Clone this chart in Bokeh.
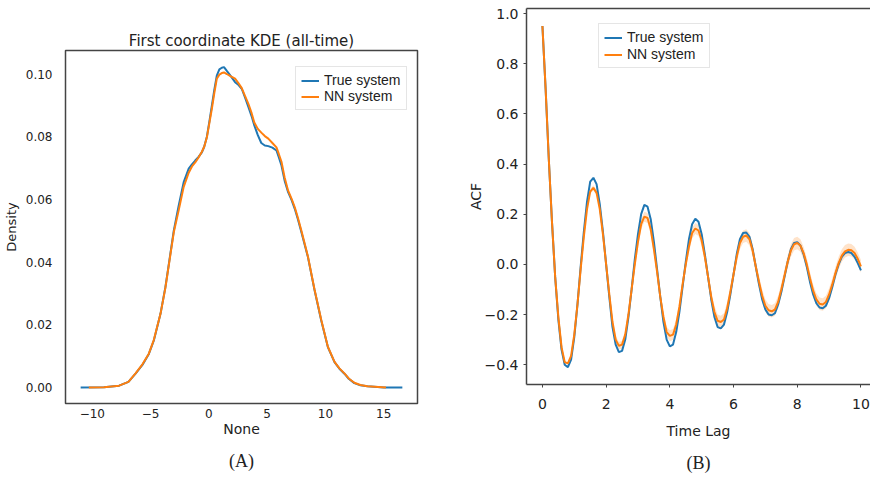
import numpy as np
from bokeh.plotting import figure
from bokeh.layouts import row, column
from bokeh.models import Range1d, FixedTicker, Legend, LegendItem, LinearAxis, Title
from bokeh.embed import file_html
from bokeh.resources import INLINE

BLUE = "#1f77b4"
ORANGE = "#ff7f0e"
SPINE = "#444444"
TICKFONT = "DejaVu Sans"

# ---------------- Panel A: KDE of first coordinate ----------------
kde_true_x = [-11.0, -9.0, -7.7, -6.9, -6.29, -5.7, -5.15, -4.72, -4.15, -3.73, -3.39, -3.01,
              -2.59, -2.16, -1.73, -1.45, -1.17, -0.9, -0.6, -0.4, -0.17, 0.05, 0.26, 0.47,
              0.68, 0.9, 1.11, 1.3, 1.54, 1.85, 2.25, 2.55, 2.82, 3.1, 3.39, 3.67, 3.9, 4.2,
              4.5, 4.8, 5.1, 5.45, 5.8, 6.0, 6.23, 6.5, 6.8, 7.1, 7.37, 7.65, 7.94, 8.5, 9.07,
              9.64, 10.21, 10.78, 11.2, 11.63, 12.0, 12.48, 13.0, 13.6, 15.0, 16.6]
kde_true_y = [0.0, 0.0001, 0.0006, 0.0018, 0.0044, 0.0072, 0.0107, 0.015, 0.0235, 0.032,
              0.0405, 0.050, 0.058, 0.0655, 0.0698, 0.0712, 0.0724, 0.0735, 0.075, 0.0768,
              0.080, 0.085, 0.090, 0.095, 0.0995, 0.1015, 0.102, 0.1022, 0.101, 0.0995,
              0.0974, 0.0965, 0.0953, 0.0925, 0.0895, 0.0865, 0.0836, 0.0805, 0.078, 0.0772,
              0.077, 0.0765, 0.0756, 0.0735, 0.0708, 0.066, 0.0623, 0.0598, 0.057, 0.0535,
              0.0495, 0.0416, 0.031, 0.0214, 0.0129, 0.0081, 0.006, 0.0044, 0.0028, 0.0014,
              0.0007, 0.0004, 0.00003, 0.0]
kde_nn_x = [-10.3, -9.0, -7.7, -6.9, -6.29, -5.7, -5.15, -4.72, -4.15, -3.73, -3.39, -3.01,
            -2.59, -2.16, -1.73, -1.45, -1.17, -0.9, -0.6, -0.4, -0.17, 0.05, 0.26, 0.47,
            0.68, 0.9, 1.11, 1.3, 1.54, 1.85, 2.25, 2.55, 2.82, 3.1, 3.39, 3.67, 3.9, 4.2,
            4.5, 4.8, 5.1, 5.45, 5.8, 6.0, 6.23, 6.5, 6.8, 7.1, 7.37, 7.65, 7.94, 8.5, 9.07,
            9.64, 10.21, 10.78, 11.2, 11.63, 12.0, 12.48, 13.0, 13.6, 15.2]
kde_nn_y = [0.0, 0.0001, 0.0006, 0.0018, 0.0045, 0.0074, 0.0108, 0.0152, 0.0235, 0.0318,
            0.0402, 0.0495, 0.0565, 0.064, 0.0685, 0.0705, 0.0718, 0.0733, 0.0752, 0.0768,
            0.0798, 0.0845, 0.089, 0.094, 0.0985, 0.0998, 0.1003, 0.1005, 0.1, 0.0993,
            0.0985, 0.097, 0.0955, 0.093, 0.0905, 0.0875, 0.0845, 0.0825, 0.0813, 0.0802,
            0.0794, 0.078, 0.0766, 0.0745, 0.072, 0.067, 0.0628, 0.0602, 0.0575, 0.054,
            0.050, 0.0418, 0.0312, 0.0216, 0.013, 0.0082, 0.0061, 0.0045, 0.0029, 0.0015,
            0.0008, 0.0004, 0.0]
kde_xticks = [-10, -5, 0, 5, 10, 15]
kde_yticks = [0.0, 0.02, 0.04, 0.06, 0.08, 0.10]
kde_ylabels = ["0.00", "0.02", "0.04", "0.06", "0.08", "0.10"]

# ---------------- Panel B: ACF ----------------
acf_lag = [round(0.1 * i, 1) for i in range(101)]
acf_true = [0.95, 0.70, 0.42, 0.17, -0.05, -0.22, -0.34, -0.40, -0.41, -0.38,
            -0.29, -0.16, -0.01, 0.13, 0.25, 0.33, 0.345, 0.32, 0.24, 0.13,
            0.00, -0.13, -0.25, -0.32, -0.35, -0.345, -0.30, -0.21, -0.10, 0.02,
            0.12, 0.20, 0.237, 0.23, 0.18, 0.09, -0.02, -0.13, -0.23, -0.30,
            -0.327, -0.32, -0.27, -0.19, -0.09, 0.01, 0.10, 0.16, 0.182, 0.17,
            0.12, 0.04, -0.05, -0.14, -0.21, -0.25, -0.255, -0.24, -0.19, -0.12,
            -0.04, 0.04, 0.10, 0.125, 0.127, 0.11, 0.06, -0.01, -0.08, -0.14,
            -0.18, -0.20, -0.203, -0.195, -0.16, -0.11, -0.05, 0.01, 0.06, 0.085,
            0.088, 0.075, 0.04, -0.01, -0.07, -0.12, -0.155, -0.172, -0.175, -0.165,
            -0.135, -0.09, -0.04, 0.00, 0.03, 0.045, 0.049, 0.045, 0.03, 0.005,
            -0.024]
acf_nn = [0.95, 0.70, 0.42, 0.17, -0.05, -0.21, -0.33, -0.39, -0.395, -0.365,
          -0.28, -0.16, -0.02, 0.11, 0.22, 0.29, 0.305, 0.285, 0.22, 0.12,
          0.00, -0.12, -0.23, -0.30, -0.325, -0.32, -0.28, -0.20, -0.10, 0.00,
          0.09, 0.16, 0.19, 0.185, 0.14, 0.06, -0.03, -0.13, -0.21, -0.27,
          -0.285, -0.28, -0.24, -0.17, -0.08, 0.00, 0.07, 0.125, 0.143, 0.135,
          0.095, 0.03, -0.05, -0.13, -0.19, -0.225, -0.23, -0.22, -0.175, -0.11,
          -0.04, 0.03, 0.085, 0.11, 0.115, 0.10, 0.055, -0.01, -0.07, -0.125,
          -0.165, -0.183, -0.187, -0.18, -0.15, -0.10, -0.045, 0.01, 0.055, 0.08,
          0.085, 0.075, 0.045, 0.00, -0.055, -0.105, -0.14, -0.157, -0.16, -0.15,
          -0.12, -0.08, -0.035, 0.005, 0.035, 0.052, 0.058, 0.056, 0.045, 0.022,
          -0.008]
acf_nn_spread_per_unit = [0.004, 0.01, 0.015, 0.02, 0.022, 0.025, 0.025, 0.025, 0.025, 0.025, 0.025]
acf_xticks = [0, 2, 4, 6, 8, 10]
acf_yticks = [-0.4, -0.2, 0.0, 0.2, 0.4, 0.6, 0.8, 1.0]
acf_ylabels = ["\u22120.4", "\u22120.2", "0.0", "0.2", "0.4", "0.6", "0.8", "1.0"]


def style_axis(ax, size):
    ax.major_label_text_font = TICKFONT
    ax.major_label_text_font_size = size
    ax.major_label_text_color = "#222222"
    ax.axis_label_text_font = TICKFONT
    ax.axis_label_text_font_style = "normal"
    ax.axis_label_text_color = "#222222"
    ax.minor_tick_line_color = None


def caption(text):
    return Title(text=text, align="center", text_font="Liberation Serif",
                 text_font_size="18px", text_font_style="normal", text_color="#222222",
                 standoff=18)


# ---------- figure A ----------
p1 = figure(width=435, height=481, output_backend="svg", toolbar_location=None,
            x_range=Range1d(-12.3, 17.9), y_range=Range1d(-0.0051, 0.1075),
            min_border_left=63, min_border_right=18, min_border_top=50, min_border_bottom=78)
p1.grid.grid_line_color = None
p1.outline_line_color = SPINE
p1.outline_line_width = 1.5
p1.title.text = "First coordinate KDE (all-time)"
p1.title.align = "center"
p1.title.text_font = TICKFONT
p1.title.text_font_style = "normal"
p1.title.text_font_size = "15px"
p1.title.text_color = "#222222"
p1.title.standoff = 2

for ax in p1.xaxis + p1.yaxis:
    style_axis(ax, "12px")
    ax.axis_line_color = None
    ax.major_tick_out = 0
    ax.major_tick_in = 0
p1.xaxis.ticker = FixedTicker(ticks=kde_xticks)
p1.xaxis.major_label_standoff = 5
p1.xaxis.axis_label = "None"
p1.xaxis.axis_label_text_font_size = "14px"
p1.xaxis.axis_label_standoff = 0
p1.yaxis.ticker = FixedTicker(ticks=kde_yticks)
p1.yaxis.major_label_overrides = {v: s for v, s in zip(kde_yticks, kde_ylabels)}
p1.yaxis.major_label_standoff = 13
p1.yaxis.axis_label = "Density"
p1.yaxis.axis_label_text_font_size = "13px"
p1.yaxis.axis_label_standoff = 4

r_true = p1.line(kde_true_x, kde_true_y, line_color=BLUE, line_width=2)
r_nn = p1.line(kde_nn_x, kde_nn_y, line_color=ORANGE, line_width=2)

leg1 = Legend(items=[LegendItem(label="True system", renderers=[r_true]),
                     LegendItem(label="NN system", renderers=[r_nn])],
              location=(230, 293), padding=5, spacing=0, margin=0,
              label_height=15, glyph_height=15, glyph_width=18, label_standoff=5,
              label_text_font="Liberation Sans", label_text_font_size="14px",
              label_text_color="#222222",
              border_line_color="#cccccc", border_line_width=1,
              background_fill_alpha=0.9)
p1.add_layout(leg1)
p1.add_layout(caption("(A)"), "below")

# ---------- figure B ----------
p2 = figure(width=435, height=481, output_backend="svg", toolbar_location=None,
            x_range=Range1d(-0.5, 10.3), y_range=Range1d(-0.479, 1.02),
            min_border_left=91, min_border_right=0, min_border_top=8, min_border_bottom=95)
p2.grid.grid_line_color = None
p2.outline_line_color = None

for ax in p2.xaxis + p2.yaxis:
    style_axis(ax, "14px")
    ax.axis_line_color = SPINE
    ax.axis_line_width = 1.5
    ax.major_tick_line_color = SPINE
    ax.major_tick_in = 0
    ax.major_tick_out = 3
p2.xaxis.ticker = FixedTicker(ticks=acf_xticks)
p2.xaxis.major_label_standoff = 11
p2.xaxis.axis_label = "Time Lag"
p2.xaxis.axis_label_text_font_size = "14px"
p2.xaxis.axis_label_standoff = 11
p2.yaxis.ticker = FixedTicker(ticks=acf_yticks)
p2.yaxis.major_label_overrides = {v: s for v, s in zip(acf_yticks, acf_ylabels)}
p2.yaxis.major_label_standoff = 5
p2.yaxis.axis_label = "ACF"
p2.yaxis.axis_label_text_font_size = "14px"
p2.yaxis.axis_label_standoff = -2

top_spine = LinearAxis(ticker=FixedTicker(ticks=[]), axis_line_color=SPINE, axis_line_width=1.5,
                       major_tick_in=0, major_tick_out=0, minor_tick_line_color=None,
                       major_label_standoff=0, axis_label_standoff=0)
p2.add_layout(top_spine, "above")

spread = np.repeat(acf_nn_spread_per_unit, 10)[:len(acf_lag)]
nn_arr = np.array(acf_nn)
p2.varea(x=acf_lag, y1=nn_arr - spread, y2=nn_arr + spread, fill_color=ORANGE, fill_alpha=0.22)
a_true = p2.line(acf_lag, acf_true, line_color=BLUE, line_width=2)
a_nn = p2.line(acf_lag, acf_nn, line_color=ORANGE, line_width=2)

leg2 = Legend(items=[LegendItem(label="True system", renderers=[a_true]),
                     LegendItem(label="NN system", renderers=[a_nn])],
              location=(72, 316), padding=5, spacing=1, margin=0,
              label_height=15, glyph_height=15, glyph_width=18, label_standoff=5,
              label_text_font="Liberation Sans", label_text_font_size="14px",
              label_text_color="#222222",
              border_line_color="#cccccc", border_line_width=1,
              background_fill_alpha=0.9)
p2.add_layout(leg2)
p2.add_layout(caption("(B)"), "below")

layout = row(column(p1), column(p2))
open("out.html", "w").write(file_html(layout, INLINE))
